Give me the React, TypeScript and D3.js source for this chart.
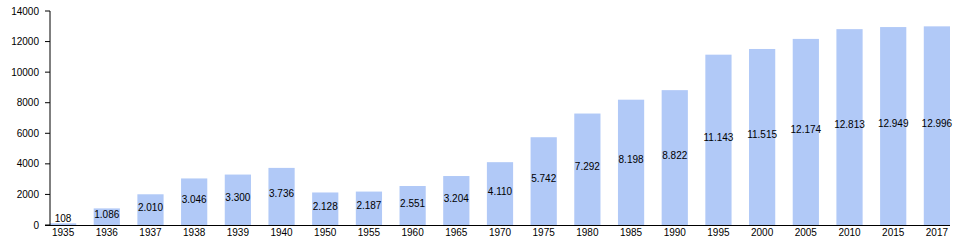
import React from "react";
import * as d3 from "d3";

const years = ["1935","1936","1937","1938","1939","1940","1950","1955","1960","1965","1970","1975","1980","1985","1990","1995","2000","2005","2010","2015","2017"];
const population = [108,1086,2010,3046,3300,3736,2128,2187,2551,3204,4110,5742,7292,8198,8822,11143,11515,12174,12813,12949,12996];
const yTicks = [0,2000,4000,6000,8000,10000,12000,14000];

const W = 960, H = 240;
const left = 50, right = 950, top = 11, bottom = 225;
const font = "'Liberation Sans', Arial, Helvetica, sans-serif";

const fmt = (v: number) => {
  const s = String(v);
  return s.length > 3 ? s.slice(0, s.length - 3) + "." + s.slice(s.length - 3) : s;
};

export default function App() {
  const x = d3.scaleBand<string>().domain(years).range([left, right]).paddingInner(0.4).paddingOuter(0);
  const y = d3.scaleLinear().domain([0, 14000]).range([bottom, top]);
  return (
    <svg width={W} height={H} style={{ position: "absolute", left: 0, top: 0, background: "#fff" }} fontFamily={font}>
      {years.map((yr, i) => {
        const v = population[i];
        const x0 = x(yr)!;
        const y0 = y(v);
        const mid = (y0 + bottom) / 2;
        return (
          <g key={yr}>
            <rect x={x0} y={y0} width={x.bandwidth()} height={bottom - y0} fill="#b1c9f7" />
            <text x={x0 + x.bandwidth() / 2} y={i === 0 ? 222 : mid + 1} fontSize={10} textAnchor="middle" fill="#000">{fmt(v)}</text>
            <text x={x0 + x.bandwidth() / 2} y={236} fontSize={10} textAnchor="middle" fill="#000">{yr}</text>
          </g>
        );
      })}
      <line x1={left} x2={left} y1={top} y2={bottom} stroke="#000" strokeWidth={1} />
      <line x1={45} x2={right} y1={bottom + 0.5} y2={bottom + 0.5} stroke="#000" strokeWidth={1} />
      {yTicks.map((t) => (
        <g key={t}>
          <line x1={45} x2={left} y1={y(t)} y2={y(t)} stroke="#000" strokeWidth={1} />
          <text x={39} y={y(t) + 3.5} fontSize={10} textAnchor="end" fill="#000">{t}</text>
        </g>
      ))}
    </svg>
  );
}
